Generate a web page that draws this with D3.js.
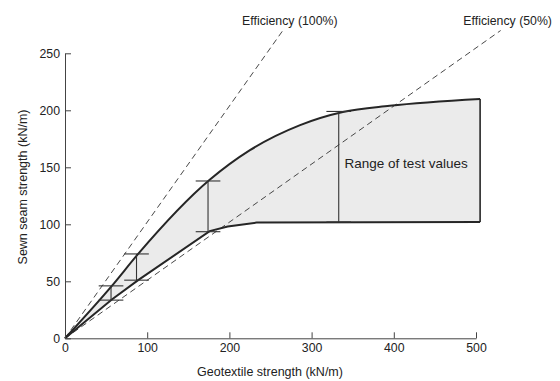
<!DOCTYPE html>
<html>
<head>
<meta charset="utf-8">
<script src="https://cdn.jsdelivr.net/npm/d3@7"></script>
<style>
  body { margin: 0; background: #fff; }
  text { font-family: "Liberation Sans", Arial, sans-serif; fill: #222; }
</style>
</head>
<body>
<div id="chart"></div>
<script>
// upper boundary of the test range (geotextile strength -> seam strength)
const upperStrength = [0, 57, 89, 176, 225, 286, 338, 395, 505];
const upperSeam = [0, 46, 74, 139, 165, 187, 198.5, 204, 210];

// lower boundary
const lowerStrength = [0, 57, 89, 176, 198, 233, 505];
const lowerSeam = [0, 34, 51, 94, 98, 101.5, 102];

// error bars
const barStrength = [56, 87, 174, 333];
const barLow = [33.5, 51, 93.5, 102];
const barHigh = [46, 74, 138, 199];

// efficiency reference lines, drawn from the origin to these end points
const efficiencyNames = ['Efficiency (100%)', 'Efficiency (50%)'];
const efficiencyEndX = [265, 530];
const efficiencyEndY = [270, 270];

const xTicks = [0, 100, 200, 300, 400, 500];
const yTicks = [0, 50, 100, 150, 200, 250];

const width = 560;
const height = 381;

const svg = d3.select('#chart').append('svg').attr('width', width).attr('height', height);

const x = d3.scaleLinear().domain([0, 500]).range([65, 476]);
const y = d3.scaleLinear().domain([0, 250]).range([338.3, 53.3]);

const upper = upperStrength.map((d, i) => [d, upperSeam[i]]);
const lower = lowerStrength.map((d, i) => [d, lowerSeam[i]]);

// shaded range: upper curve out, lower curve back
const upperLine = d3.line().x((d) => x(d[0])).y((d) => y(d[1])).curve(d3.curveMonotoneX);
const lowerLine = d3.line().x((d) => x(d[0])).y((d) => y(d[1]));

const upperPath = upperLine(upper);
const lowerBack = lowerLine(lower.slice().reverse()).replace(/^M/, 'L');
svg.append('path')
  .attr('d', upperPath + lowerBack + 'Z')
  .attr('fill', '#ebebeb')
  .attr('stroke', 'none');

// efficiency lines
efficiencyNames.forEach((name, i) => {
  svg.append('line')
    .attr('x1', x(0)).attr('y1', y(0))
    .attr('x2', x(efficiencyEndX[i])).attr('y2', y(efficiencyEndY[i]))
    .attr('stroke', '#333')
    .attr('stroke-width', 0.9)
    .attr('stroke-dasharray', '6,4');
  svg.append('text')
    .attr('x', x(efficiencyEndX[i]) + 7)
    .attr('y', 24.5)
    .attr('text-anchor', 'middle')
    .style('font-size', '12.3px')
    .text(name);
});

// boundaries
svg.append('path').attr('d', upperPath).attr('fill', 'none').attr('stroke', '#262626').attr('stroke-width', 2);
svg.append('path').attr('d', lowerLine(lower)).attr('fill', 'none').attr('stroke', '#262626').attr('stroke-width', 2);

// right edge of the range
svg.append('line')
  .attr('x1', x(505)).attr('x2', x(505))
  .attr('y1', y(lowerSeam[lowerSeam.length - 1])).attr('y2', y(upperSeam[upperSeam.length - 1]))
  .attr('stroke', '#262626').attr('stroke-width', 1.6);

// error bars
const cap = 15;
barStrength.forEach((s, i) => {
  const g = svg.append('g').attr('stroke', '#333').attr('stroke-width', 1.1);
  g.append('line').attr('x1', x(s)).attr('x2', x(s)).attr('y1', y(barLow[i])).attr('y2', y(barHigh[i]));
  g.append('line').attr('x1', x(s - cap)).attr('x2', x(s + cap)).attr('y1', y(barLow[i])).attr('y2', y(barLow[i]));
  g.append('line').attr('x1', x(s - cap)).attr('x2', x(s + cap)).attr('y1', y(barHigh[i])).attr('y2', y(barHigh[i]));
});

svg.append('text')
  .attr('x', x(415))
  .attr('y', y(153) + 4.5)
  .attr('text-anchor', 'middle')
  .style('font-size', '13.5px')
  .text('Range of test values');

// axes, ticks point inward
const xAxis = d3.axisBottom(x).tickValues(xTicks).tickSizeInner(-6).tickSizeOuter(0).tickPadding(5);
const yAxis = d3.axisLeft(y).tickValues(yTicks).tickSizeInner(-6).tickSizeOuter(0).tickPadding(5);

const gx = svg.append('g').attr('transform', `translate(0,${y(0)})`).call(xAxis);
const gy = svg.append('g').attr('transform', `translate(${x(0)},0)`).call(yAxis);

[gx, gy].forEach((g) => {
  g.select('.domain').attr('stroke', '#444').attr('stroke-width', 1);
  g.selectAll('.tick line').attr('stroke', '#444').attr('stroke-width', 1);
  g.selectAll('.tick text')
    .style('font-size', '12.3px')
    .style('font-family', '"Liberation Sans", Arial, sans-serif')
    .attr('fill', '#222');
});

svg.append('text')
  .attr('x', 270)
  .attr('y', 376)
  .attr('text-anchor', 'middle')
  .style('font-size', '12.5px')
  .text('Geotextile strength (kN/m)');

svg.append('text')
  .attr('transform', 'translate(27,187) rotate(-90)')
  .attr('text-anchor', 'middle')
  .style('font-size', '12.5px')
  .text('Sewn seam strength (kN/m)');
</script>
</body>
</html>
